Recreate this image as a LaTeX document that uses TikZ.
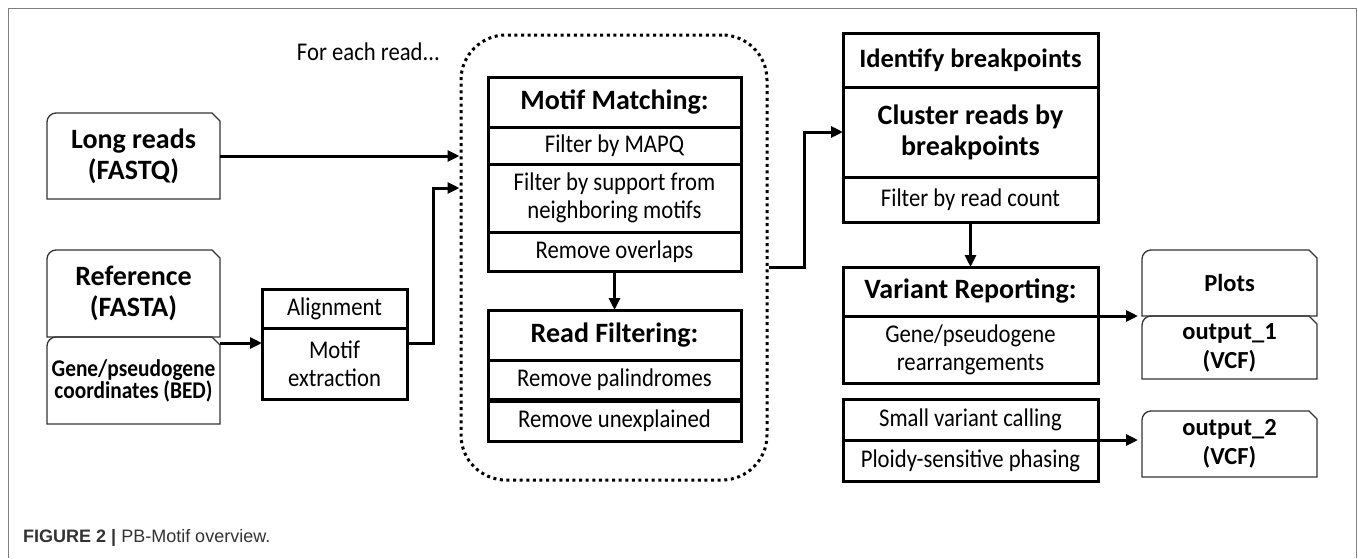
\documentclass[tikz,border=0pt]{standalone}
\usepackage{fontspec}
\setmainfont{Carlito}
\newfontfamily\narrowfont{Carlito}[FakeStretch=0.89]
\newfontfamily\capfont{Liberation Sans}
\usetikzlibrary{arrows.meta,positioning}

\newcommand\hdfont{\bfseries\fontsize{28}{31}\selectfont}
\newcommand\bdfont{\narrowfont\fontsize{25.5}{28}\selectfont}
\newcommand\tagfont{\bfseries\fontsize{24.5}{29}\selectfont}

% tag outline: round top-left corner, cut top-right corner
\newcommand\tagoutline[1]{%
  \draw[line width=1.3pt,black!80] (#1.south west) -- ([yshift=-9pt]#1.north west)
    arc[start angle=180,end angle=90,radius=9pt] -- ([xshift=-8pt]#1.north east)
    -- ([yshift=-8pt]#1.north east) -- (#1.south east) -- cycle;}

\tikzset{
  cellbox/.style={draw,line width=3pt,outer sep=0pt,inner sep=0pt,align=center,anchor=north west,font=\bdfont},
  tagbox/.style={inner sep=0pt,outer sep=0pt,align=center,anchor=north west,font=\hdfont},
  arr/.style={line width=3pt,-{Triangle[length=12pt,width=11pt]}},
}

\begin{document}
\begin{tikzpicture}[x=1pt,y=-1pt]
  \useasboundingbox (0,0) rectangle (1358,558);
  \draw[gray,line width=1pt] (8,558) -- (8,8) -- (1356,8) -- (1356,558);

  % inputs
  \node[tagbox,minimum width=173pt,minimum height=86pt] (long) at (47,113) {Long reads\\(FASTQ)};
  \node[tagbox,minimum width=173pt,minimum height=87pt] (ref) at (47,250) {Reference\\(FASTA)};
  \node[tagbox,minimum width=173pt,minimum height=87pt,font=\narrowfont\bfseries\fontsize{24}{22}\selectfont] (gene) at (47,337) {Gene/pseudogene\\coordinates (BED)};
  \foreach \n in {long,ref,gene} {\tagoutline{\n}}

  % alignment
  \node[cellbox,minimum width=145pt,minimum height=39pt] (aln) at (262,289) {Alignment};
  \node[cellbox,minimum width=145pt,minimum height=71pt] (ext) at (262,328) {Motif\\extraction};

  % per-read loop
  \node[draw,line width=3pt,dash pattern=on 3pt off 3.6pt,rounded corners=45pt,
        minimum width=306pt,minimum height=445pt] (loop) at (614,257.5) {};
  \node[anchor=east,inner sep=0pt,font=\bdfont] (each) at (440,52) {For each read...};

  \node[cellbox,minimum width=253pt,minimum height=50pt,font=\hdfont] (mm1) at (488,77) {Motif Matching:};
  \node[cellbox,minimum width=253pt,minimum height=37pt] (mm2) at (488,127) {Filter by MAPQ};
  \node[cellbox,minimum width=253pt,minimum height=68pt] (mm3) at (488,164) {Filter by support from\\neighboring motifs};
  \node[cellbox,minimum width=253pt,minimum height=39pt] (mm4) at (488,232) {Remove overlaps};

  \node[cellbox,minimum width=253pt,minimum height=50pt,font=\hdfont] (rf1) at (488,310) {Read Filtering:};
  \node[cellbox,minimum width=253pt,minimum height=39pt] (rf2) at (488,360) {Remove palindromes};
  \node[cellbox,minimum width=253pt,minimum height=40pt] (rf3) at (488,401) {Remove unexplained};

  % breakpoints
  \node[cellbox,minimum width=255pt,minimum height=54pt,font=\bfseries\fontsize{26.5}{30}\selectfont] (idb) at (843,33) {Identify breakpoints};
  \node[cellbox,minimum width=255pt,minimum height=90pt,font=\hdfont] (clu) at (843,87) {Cluster reads by\\breakpoints};
  \node[cellbox,minimum width=255pt,minimum height=45pt] (frc) at (843,177) {Filter by read count};

  \node[cellbox,minimum width=255pt,minimum height=49pt,font=\hdfont] (vr1) at (843,267) {Variant Reporting:};
  \node[cellbox,minimum width=255pt,minimum height=67pt] (vr2) at (843,316) {Gene/pseudogene\\rearrangements};

  \node[cellbox,minimum width=255pt,minimum height=41pt] (sv1) at (843,399) {Small variant calling};
  \node[cellbox,minimum width=255pt,minimum height=41pt] (sv2) at (843,440) {Ploidy-sensitive phasing};

  % outputs
  \node[tagbox,minimum width=175pt,minimum height=66pt,font=\tagfont] (plots) at (1142,250) {Plots};
  \node[tagbox,minimum width=175pt,minimum height=63pt,font=\tagfont] (out1) at (1142,316) {output\_1\\(VCF)};
  \node[tagbox,minimum width=175pt,minimum height=66pt,font=\tagfont] (out2) at (1142,411) {output\_2\\(VCF)};
  \foreach \n in {plots,out1,out2} {\tagoutline{\n}}

  % connectors
  \draw[arr] (long.east) -- (long.east -| loop.west);
  \draw[arr] ([yshift=-6pt]gene.north east) -- ([yshift=-6pt]gene.north east -| aln.west);
  \draw[arr] ([yshift=20.5pt]ext.east) -- ++(26pt,0) |- ([yshift=69.5pt]loop.west);
  \draw[arr] (mm4.south) -- (rf1.north);
  \draw[arr] ([yshift=-9.5pt]loop.east) -- ++(36pt,0) |- (clu.west);
  \draw[arr] (frc.south) -- (vr1.north);
  \draw[arr,shorten >=4pt] (vr1.south east) -- (out1.north west);
  \draw[arr,shorten >=4pt] (sv1.south east) -- (sv1.south east -| out2.west);

  \node[anchor=west,inner sep=0pt,font=\capfont\fontsize{18}{21}\selectfont,text=black!80] (cap) at (23,538) {\textbf{FIGURE 2 |} PB-Motif overview.};
\end{tikzpicture}
\end{document}
